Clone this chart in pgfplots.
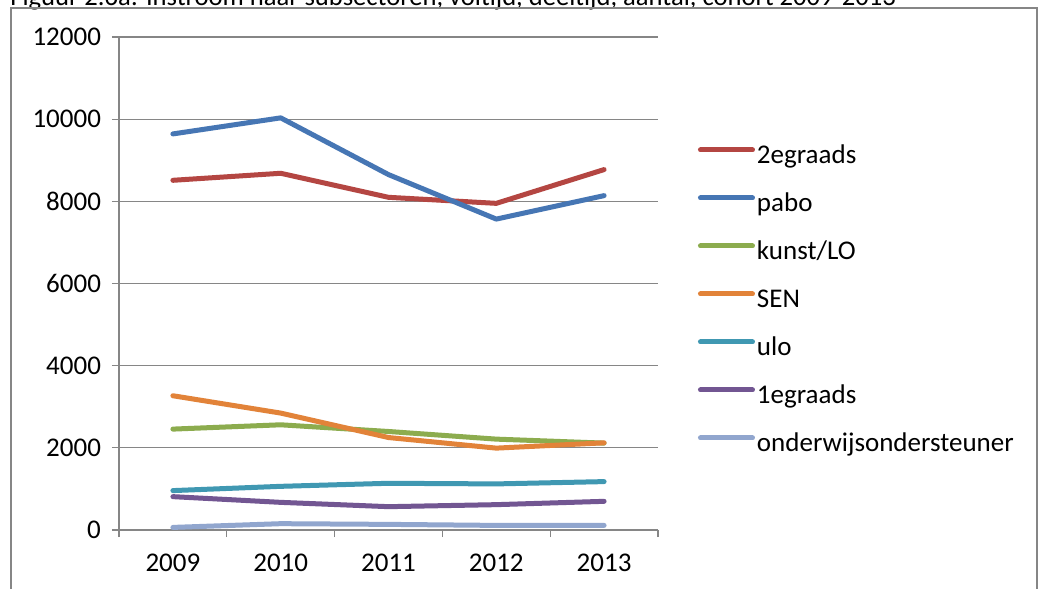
\documentclass[border=0pt]{standalone}
\usepackage{pgfplots}
\pgfplotsset{compat=1.18}
\usepackage{fontspec}
\setmainfont{Carlito}
\definecolor{axisgray}{RGB}{134,134,134}
\definecolor{cRed}{RGB}{180,70,66}
\definecolor{cBlue}{RGB}{70,118,180}
\definecolor{cGreen}{RGB}{140,172,78}
\definecolor{cOrange}{RGB}{226,131,57}
\definecolor{cTeal}{RGB}{64,152,178}
\definecolor{cPurple}{RGB}{114,86,146}
\definecolor{cLight}{RGB}{145,166,206}
\begin{document}
\begin{tikzpicture}
\useasboundingbox (0,0) rectangle (519.5pt,-294.5pt);
\clip (0,0) rectangle (519.5pt,-294.5pt);
\fill[white] (0,0) rectangle (519.5pt,-294.5pt);
\node[anchor=base west, inner sep=0pt, font=\fontsize{13.3}{16}\selectfont] at (5pt,-2.6pt) {Figuur 2.6a: Instroom naar subsectoren, voltijd, deeltijd, aantal, cohort 2009-2013};
\draw[axisgray, line width=0.7pt] (5.5pt,-300pt) -- (5.5pt,-4pt) -- (518.5pt,-4pt) -- (518.5pt,-300pt);
\begin{axis}[
  at={(59.5pt,-265pt)}, anchor=south west,
  scale only axis, width=269.5pt, height=246.5pt,
  xmin=-0.5, xmax=4.5, ymin=0, ymax=12000,
  xtick={0,...,4}, xticklabels={2009,2010,2011,2012,2013},
  minor xtick={-0.5,0.5,1.5,2.5,3.5,4.5},
  ytick={0,2000,...,12000},
  scaled ticks=false,
  axis x line*=bottom, axis y line*=left,
  axis line style={draw=axisgray, line width=0.6pt, -},
  ymajorgrids, grid style={axisgray, line width=0.6pt},
  tick align=outside, major tick length=3.5pt, minor tick length=3.5pt,
  tick style={axisgray, line width=0.6pt},
  major x tick style={draw=none},
  /pgf/number format/1000 sep={},
  /pgf/number format/assume math mode=true,
  yticklabel={\pgfmathprintnumber[fixed,precision=0,1000 sep={}]{\tick}},
  tick label style={font=\fontsize{13.5}{16}\selectfont, black},
  xticklabel style={yshift=-5pt},
  yticklabel style={xshift=-2pt},
  legend cell align=left,
  legend style={at={(1.0742,0.781)}, anchor=north west, draw=none, fill=none,
    inner sep=0pt, outer sep=0pt, row sep=12pt,
    font=\fontsize{13.5}{16}\selectfont,
    nodes={inner sep=0pt, text height=9.5pt, text depth=2.5pt}},
  legend image code/.code={\draw[#1, line width=2.5pt, line cap=round] (0pt,3.5pt) -- (26pt,3.5pt);},
  every axis plot/.append style={line width=2.5pt, line join=round, line cap=round},
]
\addplot[cRed] coordinates {(0,8512) (1,8683) (2,8098) (3,7951) (4,8773)};
\addlegendentry{\hspace{1pt}2egraads}
\addplot[cBlue] coordinates {(0,9641) (1,10032) (2,8651) (3,7568) (4,8139)};
\addlegendentry{\hspace{1pt}pabo}
\addplot[cGreen] coordinates {(0,2456) (1,2561) (2,2398) (3,2212) (4,2115)};
\addlegendentry{\hspace{1pt}kunst/LO}
\addplot[cOrange] coordinates {(0,3268) (1,2846) (2,2251) (3,1993) (4,2122)};
\addlegendentry{\hspace{1pt}SEN}
\addplot[cTeal] coordinates {(0,959) (1,1063) (2,1137) (3,1122) (4,1178)};
\addlegendentry{\hspace{1pt}ulo}
\addplot[cPurple] coordinates {(0,812) (1,673) (2,568) (3,617) (4,698)};
\addlegendentry{\hspace{1pt}1egraads}
\addplot[cLight] coordinates {(0,63) (1,154) (2,137) (3,112) (4,112)};
\addlegendentry{\hspace{1pt}onderwijsondersteuner}
\end{axis}
\end{tikzpicture}
\end{document}
